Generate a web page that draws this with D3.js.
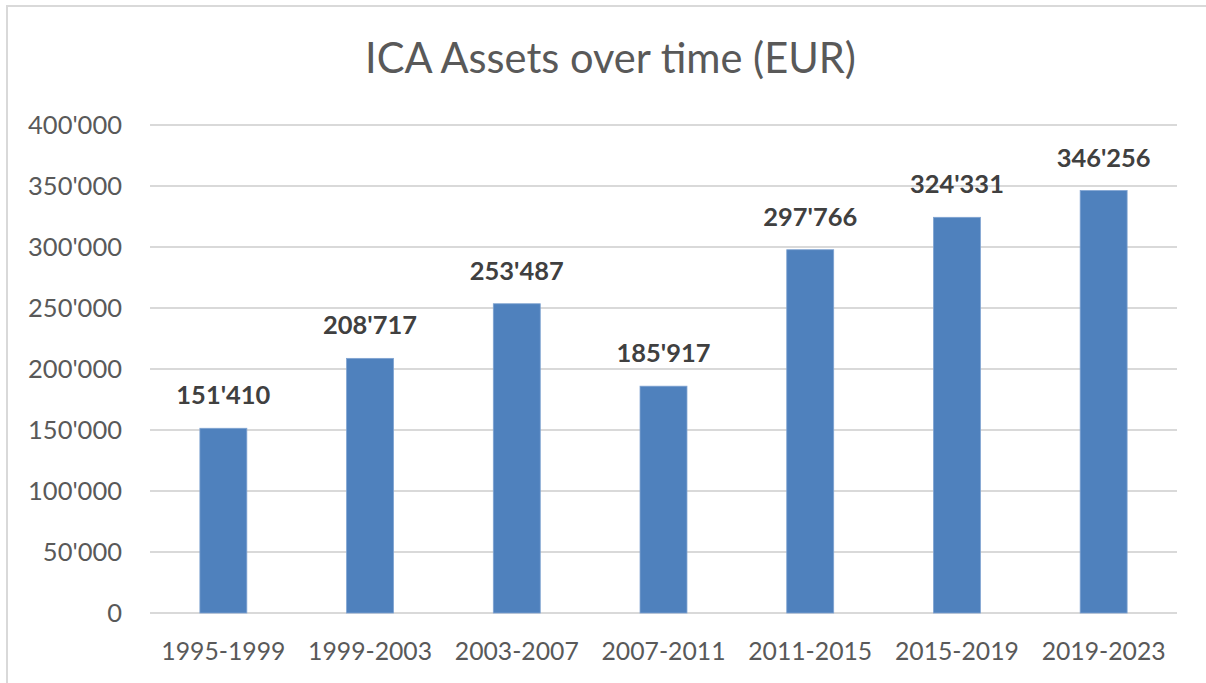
<!DOCTYPE html>
<html>
<head>
<meta charset="utf-8">
<script src="https://cdn.jsdelivr.net/npm/d3@7"></script>
<style>
  html, body { margin: 0; padding: 0; background: #fff; }
  svg { display: block; }
</style>
</head>
<body>
<script>
const categories = ["1995-1999", "1999-2003", "2003-2007", "2007-2011", "2011-2015", "2015-2019", "2019-2023"];
const values = [151410, 208717, 253487, 185917, 297766, 324331, 346256];
const yTicks = [0, 50000, 100000, 150000, 200000, 250000, 300000, 350000, 400000];
const title = "ICA Assets over time (EUR)";

const W = 1206, H = 683;
const FONT = "Lato, 'Open Sans', sans-serif";
const fmt = v => d3.format(",")(v).replace(/,/g, "'");

const svg = d3.select("body").append("svg").attr("width", W).attr("height", H);

// chart frame
svg.append("rect").attr("x", 7).attr("y", 6).attr("width", W + 10).attr("height", H + 10)
  .attr("fill", "#fff").attr("stroke", "#d9d9d9").attr("stroke-width", 2);

const x = d3.scaleBand().domain(categories).range([150, 1177]).paddingInner(0.68).paddingOuter(0.34);
const y = d3.scaleLinear().domain([0, 400000]).range([613, 125]);

// helper: fit font size to target width
function fit(sel, target) {
  const node = sel.node();
  const fs = parseFloat(sel.attr("font-size"));
  const w = node.getComputedTextLength();
  sel.attr("font-size", (fs * target / w).toFixed(2));
}

// gridlines
svg.append("g").selectAll("line").data(yTicks).join("line")
  .attr("x1", 150).attr("x2", 1177)
  .attr("y1", d => y(d)).attr("y2", d => y(d))
  .attr("stroke", "#d9d9d9").attr("stroke-width", 2);

// y axis labels
const yAxis = svg.append("g").attr("transform", "translate(122,0)")
  .call(d3.axisLeft(y).tickValues(yTicks).tickSize(0).tickPadding(0).tickFormat(fmt));
yAxis.select(".domain").remove();
yAxis.selectAll("text").attr("font-family", FONT).attr("font-size", 22).attr("fill", "#595959").attr("dy", "0.35em");
{
  const t = yAxis.selectAll("text").filter(d => d === 400000);
  const w = t.node().getComputedTextLength();
  const fs = 22 * 94 / w;
  yAxis.selectAll("text").attr("font-size", fs);
}

// x axis labels
const xAxis = svg.append("g").attr("transform", "translate(0,613)")
  .call(d3.axisBottom(x).tickSize(0).tickPadding(0));
xAxis.select(".domain").remove();
xAxis.selectAll("text").attr("font-family", FONT).attr("font-size", 22).attr("fill", "#595959")
  .attr("y", 47).attr("dy", 0);
{
  const t = xAxis.selectAll("text").filter((d, i) => i === 0);
  const w = t.node().getComputedTextLength();
  xAxis.selectAll("text").attr("font-size", 22 * 124 / w);
}

// bars
svg.append("g").selectAll("rect").data(values).join("rect")
  .attr("x", (d, i) => x(categories[i]))
  .attr("width", x.bandwidth())
  .attr("y", d => y(d))
  .attr("height", d => y(0) - y(d))
  .attr("fill", "#4f81bd")
  .attr("stroke", "#7fa3d1").attr("stroke-width", 0.8);

// value labels
const labels = svg.append("g").selectAll("text").data(values).join("text")
  .attr("x", (d, i) => x(categories[i]) + x.bandwidth() / 2)
  .attr("y", d => y(d) - 24)
  .attr("text-anchor", "middle")
  .attr("font-family", FONT).attr("font-weight", "bold").attr("font-size", 22)
  .attr("fill", "#404040")
  .text(fmt);
{
  const w = labels.filter((d, i) => i === 0).node().getComputedTextLength();
  labels.attr("font-size", 22 * 94 / w);
}

// title
const tt = svg.append("text").attr("x", 610.5).attr("y", 73).attr("text-anchor", "middle")
  .attr("font-family", FONT).attr("font-size", 36).attr("fill", "#595959").text(title);
fit(tt, 491);
</script>
</body>
</html>
